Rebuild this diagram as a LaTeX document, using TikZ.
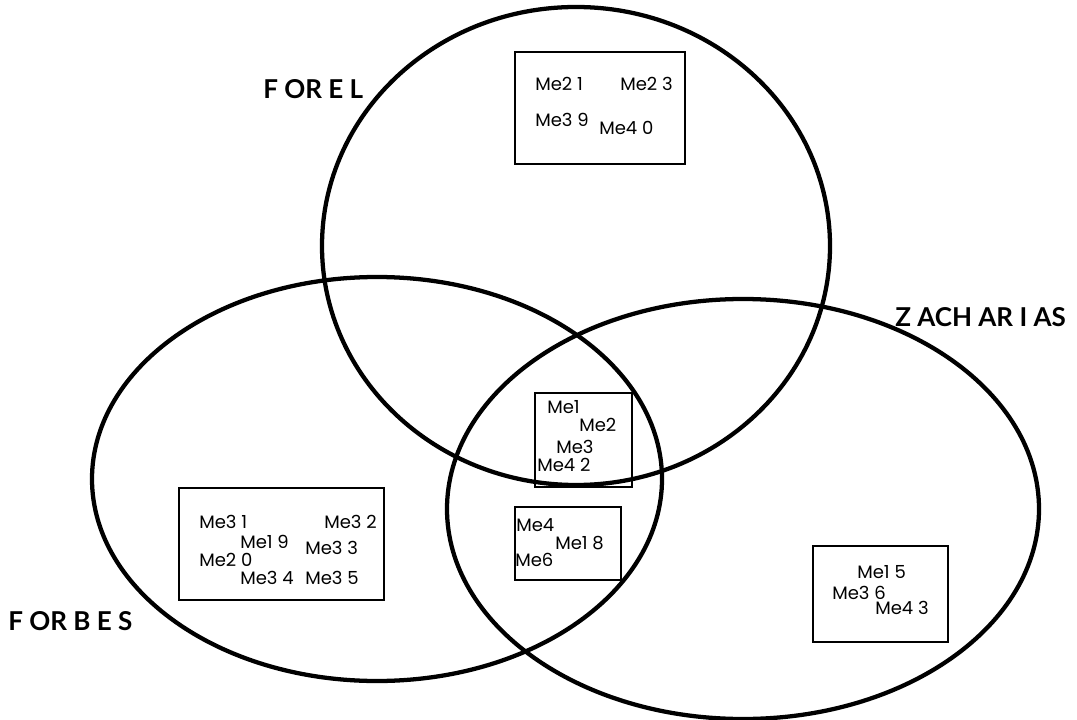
\documentclass[tikz,border=0pt]{standalone}
\usepackage{fontspec}
\setmainfont{Poppins}
\newfontfamily\labfont{Lato}
\begin{document}
\begin{tikzpicture}[x=0.75pt,y=-0.75pt,
  setline/.style={line width=3.2pt},
  boxline/.style={line width=1.6pt},
  item/.style={anchor=west,inner sep=0pt,font=\fontsize{13.5}{15}\selectfont},
  setname/.style={anchor=west,inner sep=0pt,font=\labfont\bfseries\fontsize{19.5}{22}\selectfont}]
\useasboundingbox (0,0) rectangle (1077,720);
% the three sets
\draw[setline] (576,246) ellipse [x radius=254, y radius=239];
\draw[setline] (377,479) ellipse [x radius=285, y radius=202];
\draw[setline] (743,509) ellipse [x radius=296, y radius=210];
% member boxes
\draw[boxline] (515,52) rectangle (685,164);
\draw[boxline] (535,393) rectangle (632,487);
\draw[boxline] (515,507) rectangle (621,580);
\draw[boxline] (179,488) rectangle (384,600);
\draw[boxline] (813,546) rectangle (948,642);
% set names
\node[setname] (forel) at (263,89) {F OR E L};
\node[setname] (forbes) at (8,621) {F OR B E S};
\node[setname] (zach) at (895,317) {Z ACH AR I AS};
% FOREL only
\node[item] (m21) at (535,84) {Me2 1};
\node[item] (m23) at (620,84) {Me2 3};
\node[item] (m39) at (535,120) {Me3 9};
\node[item] (m40) at (599,128) {Me4 0};
% all three
\node[item] (m1) at (547,407) {Me1};
\node[item] (m2) at (579,425) {Me2};
\node[item] (m3) at (556,447) {Me3};
\node[item] (m42) at (537,465) {Me4 2};
% FORBES and ZACHARIAS
\node[item] (m4) at (516,525) {Me4};
\node[item] (m18) at (555,543) {Me1 8};
\node[item] (m6) at (515,560) {Me6};
% FORBES only
\node[item] (m31) at (199,522) {Me3 1};
\node[item] (m32) at (324,522) {Me3 2};
\node[item] (m19) at (240,542) {Me1 9};
\node[item] (m33) at (305,548) {Me3 3};
\node[item] (m20) at (199,560) {Me2 0};
\node[item] (m34) at (240,578) {Me3 4};
\node[item] (m35) at (305,578) {Me3 5};
% ZACHARIAS only
\node[item] (m15) at (857,572) {Me1 5};
\node[item] (m36) at (832,593) {Me3 6};
\node[item] (m43) at (875,608) {Me4 3};
\end{tikzpicture}
\end{document}
